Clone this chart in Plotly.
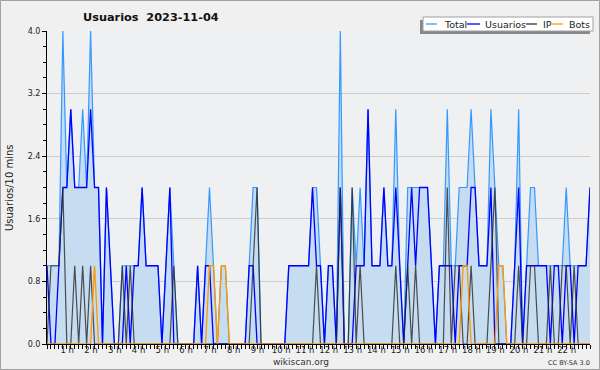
import plotly.graph_objects as go

# 10-minute slots from 00:00 (138 slots)
slot_labels = [f"{i // 6:02d}:{(i % 6) * 10:02d}" for i in range(138)]

total = [1,1,1,1,4,2,3,2,2,3,
         2,4,2,2,0,2,1,0,0,1,
         1,1,1,1,2,1,1,1,1,0,
         1,2,1,0,0,0,0,0,1,0,
         1,2,1,0,1,1,0,0,0,0,
         0,1,2,2,0,0,0,0,0,0,
         0,1,1,1,1,1,1,2,2,1,
         0,1,1,0,4,0,0,2,1,2,
         1,3,1,1,1,2,1,1,3,1,
         0,2,2,2,2,2,2,1,0,1,
         1,3,1,1,2,2,2,3,2,1,
         1,1,3,2,1,1,0,0,1,3,
         0,1,2,2,1,1,1,1,1,1,
         1,2,1,1,1,1,1,2]
usuarios = [1,0,0,1,2,2,3,2,2,2,
            2,3,2,2,0,2,1,0,0,0,
            1,0,1,1,2,1,1,1,1,0,
            1,2,0,0,0,0,0,0,1,0,
            1,1,0,0,0,0,0,0,0,0,
            0,1,1,0,0,0,0,0,0,0,
            0,1,1,1,1,1,1,2,1,1,
            0,1,1,0,2,0,0,0,1,1,
            1,3,1,1,1,2,1,1,2,1,
            0,1,2,1,2,2,2,1,0,1,
            1,1,1,0,1,1,1,2,2,1,
            1,1,2,0,0,0,0,0,1,2,
            0,1,1,1,1,1,1,0,1,1,
            0,1,1,0,1,1,1,2]
ip = [0,1,1,1,2,0,0,1,0,1,
      0,1,0,0,0,0,0,0,0,1,
      0,1,0,0,0,0,0,0,0,0,
      0,0,1,0,0,0,0,0,0,0,
      0,0,0,0,0,0,0,0,0,0,
      0,0,1,2,0,0,0,0,0,0,
      0,0,0,0,0,0,0,0,1,0,
      0,0,0,0,2,0,0,2,0,1,
      0,0,0,0,0,0,0,0,1,0,
      0,1,0,1,0,0,0,0,0,0,
      0,2,0,1,1,0,0,1,0,0,
      0,0,1,2,0,0,0,0,0,1,
      0,0,1,1,0,0,0,1,0,0,
      1,1,0,1,0,0,0,0]
bots = [0,0,0,0,0,0,0,0,0,0,
        0,0,1,0,0,0,0,0,0,0,
        0,0,0,0,0,0,0,0,0,0,
        0,0,0,0,0,0,0,0,0,0,
        0,1,1,0,1,1,0,0,0,0,
        0,0,0,0,0,0,0,0,0,0,
        0,0,0,0,0,0,0,0,0,0,
        0,0,0,0,0,0,0,0,0,0,
        0,0,0,0,0,0,0,0,0,0,
        0,0,0,0,0,0,0,0,0,0,
        0,0,0,0,0,1,1,0,0,0,
        0,0,0,0,1,1,0,0,0,0,
        0,0,0,0,0,0,0,0,0,0,
        0,0,0,0,0,0,0,0]

y_ticks = [0.0, 0.8, 1.6, 2.4, 3.2, 4.0]
y_ticktext = ["0.0", "0.8", "1.6", "2.4", "3.2", "4.0"]
hour_ticks = list(range(1, 23))
hour_text = [f"{h} h" for h in hour_ticks]

x = [int(s[:2]) + int(s[3:]) / 60 for s in slot_labels]

FONT = "DejaVu Sans"
W, H = 600, 370
L, R, T, B = 47, 10, 31, 26
PW, PH = W - L - R, H - T - B

def px(xp):
    return (xp - L) / PW

def py(yp):
    return (H - B - yp) / PH

fig = go.Figure()
fig.add_trace(go.Scatter(x=x, y=total, mode="lines", name="Total",
                         line=dict(color="#3399ff", width=1.2),
                         fill="tozeroy", fillcolor="#c6dcf0"))
fig.add_trace(go.Scatter(x=x, y=usuarios, mode="lines", name="Usuarios",
                         line=dict(color="#0000ff", width=1.3)))
fig.add_trace(go.Scatter(x=x, y=ip, mode="lines", name="IP",
                         line=dict(color="rgba(40,40,40,0.8)", width=1.2)))
fig.add_trace(go.Scatter(x=x, y=bots, mode="lines", name="Bots",
                         line=dict(color="#ff9900", width=1.3)))

shapes = []
# figure border
shapes.append(dict(type="rect", xref="paper", yref="paper",
                   x0=px(0.5), x1=px(W - 0.5), y0=py(H - 0.5), y1=py(0.5),
                   line=dict(color="#a0a0a0", width=1), layer="below"))
# legend shadow + box
shapes.append(dict(type="rect", xref="paper", yref="paper",
                   x0=px(420), x1=px(590), y0=py(34), y1=py(20),
                   fillcolor="#888888", line=dict(width=0), layer="above"))
shapes.append(dict(type="rect", xref="paper", yref="paper",
                   x0=px(423), x1=px(593), y0=py(31), y1=py(17),
                   fillcolor="white", line=dict(color="#a0a0a0", width=1), layer="above"))
legend_items = [("Total", "#3399ff", 426, 437, 442),
                ("Usuarios", "#0000ff", 467, 480, 483),
                ("IP", "#333333", 526, 537, 541),
                ("Bots", "#ff9900", 552, 563, 567)]
annotations = []
for name, col, lx0, lx1, tx in legend_items:
    shapes.append(dict(type="line", xref="paper", yref="paper",
                       x0=px(lx0), x1=px(lx1), y0=py(24), y1=py(24),
                       line=dict(color=col, width=1.3), layer="above"))
    annotations.append(dict(text=name, xref="paper", yref="paper",
                            x=px(tx), y=py(24.5), xanchor="left", yanchor="middle",
                            showarrow=False, font=dict(family=FONT, size=9.5, color="#222")))

annotations.append(dict(text="<b>Usuarios  2023-11-04</b>", xref="paper", yref="paper",
                        x=px(151), y=py(17), xanchor="center", yanchor="middle",
                        showarrow=False, font=dict(family=FONT, size=11.3, color="#111")))
annotations.append(dict(text="Usuarios/10 mins", xref="paper", yref="paper",
                        x=px(9), y=py(188), xanchor="center", yanchor="middle",
                        textangle=-90, showarrow=False,
                        font=dict(family=FONT, size=10, color="#222")))
annotations.append(dict(text="wikiscan.org", xref="paper", yref="paper",
                        x=px(301), y=py(362), xanchor="center", yanchor="middle",
                        showarrow=False, font=dict(family=FONT, size=9, color="#333")))
annotations.append(dict(text="CC BY-SA 3.0", xref="paper", yref="paper",
                        x=px(569), y=py(362.5), xanchor="center", yanchor="middle",
                        showarrow=False, font=dict(family=FONT, size=6.5, color="#333")))

fig.update_layout(
    width=W, height=H,
    margin=dict(l=L, r=R, t=T, b=B, pad=0),
    paper_bgcolor="#f0f0f0",
    plot_bgcolor="#eef0f2",
    showlegend=False,
    shapes=shapes,
    annotations=annotations,
    xaxis=dict(range=[0, x[-1]], tickmode="array",
               tickvals=[h - 0.15 for h in hour_ticks], ticktext=hour_text,
               ticks="", showgrid=False, zeroline=False, automargin=False,
               ticklabelstandoff=-2,
               showline=True, linecolor="black", linewidth=1,
               tickfont=dict(family=FONT, size=8.5, color="#222"),
               minor=dict(ticks="outside", ticklen=4, tickcolor="black",
                          dtick=1/6, tick0=0, showgrid=False)),
    yaxis=dict(range=[0, 4.0], tickmode="array", tickvals=y_ticks, ticktext=y_ticktext,
               ticks="outside", ticklen=4, tickcolor="black", automargin=False,
               showgrid=True, gridcolor="#cccccc", gridwidth=1, zeroline=False,
               showline=True, linecolor="black", linewidth=1,
               tickfont=dict(family=FONT, size=8, color="#222"),
               minor=dict(ticks="outside", ticklen=3, tickcolor="black",
                          dtick=0.2, tick0=0, showgrid=False)),
)

fig.write_html("out.html", config={"displayModeBar": False},
               post_script="document.body.style.margin='0';document.body.style.padding='0';")
